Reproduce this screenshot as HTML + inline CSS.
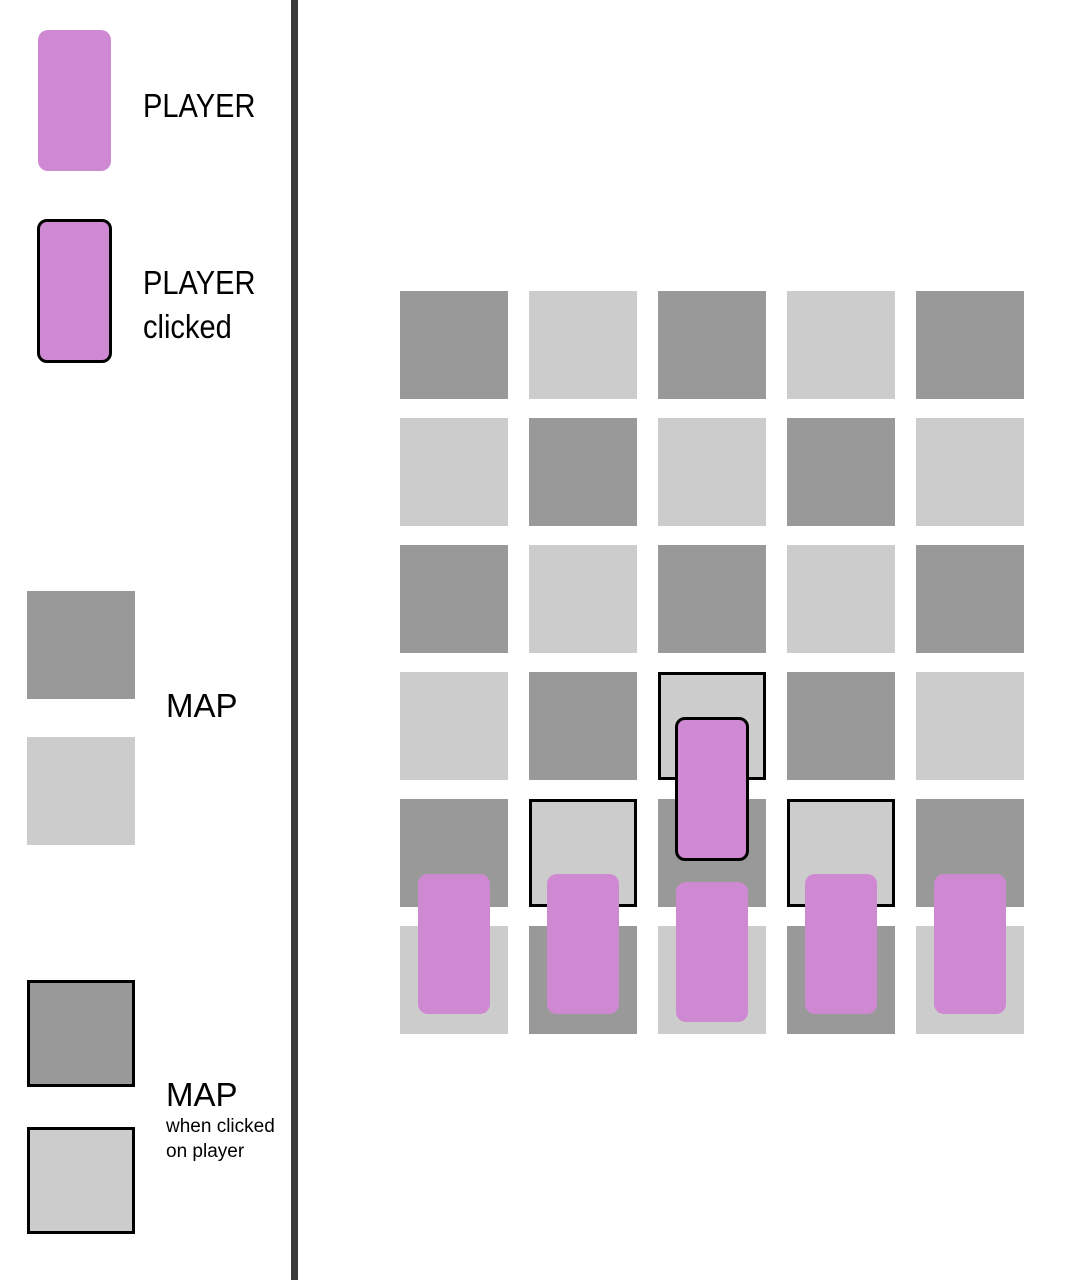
<!DOCTYPE html>
<html><head><style>
body{margin:0;width:1072px;height:1280px;background:#fff;position:relative;overflow:hidden;font-family:"Liberation Sans",sans-serif}
div{position:absolute;box-sizing:border-box}
.d{background:#999}.l{background:#ccc}
.p{background:#cf89d2;border-radius:10px}
.b{border:3.5px solid #000}
.t{color:#000;white-space:nowrap;line-height:1}
.s{transform:scaleX(0.88);transform-origin:0 0}
</style></head><body>
<div style="left:291px;top:0;width:7px;height:1280px;background:#3a3a3a"></div>
<div class="p" style="left:38px;top:30px;width:73px;height:141px"></div>
<div class="t s" style="left:143px;top:89px;font-size:33px">PLAYER</div>
<div class="p b" style="left:37px;top:219px;width:75px;height:144px"></div>
<div class="t s" style="left:143px;top:261px;font-size:33px;line-height:44px">PLAYER<br>clicked</div>
<div class="d" style="left:27px;top:591px;width:108px;height:108px"></div>
<div class="l" style="left:27px;top:737px;width:108px;height:108px"></div>
<div class="t" style="left:166px;top:689px;font-size:33px">MAP</div>
<div class="d b" style="left:27px;top:980px;width:108px;height:107px"></div>
<div class="l b" style="left:27px;top:1127px;width:108px;height:107px"></div>
<div class="t" style="left:166px;top:1078px;font-size:33px">MAP</div>
<div class="t" style="left:166px;top:1114px;font-size:19px;line-height:25px">when clicked<br>on player</div>
<div id="g"></div>
<script>
var xs=[400,529,658,787,916],ys=[291,418,545,672,799,926],h='';
for(var r=0;r<6;r++)for(var c=0;c<5;c++){var cl=((r+c)%2==0)?'d':'l';
var hl=(r==3&&c==2)||(r==4&&(c==1||c==3));
if(hl)cl='l b';
h+='<div class="'+cl+'" style="left:'+xs[c]+'px;top:'+ys[r]+'px;width:108px;height:108px"></div>';}
document.body.insertAdjacentHTML('beforeend',h);
</script>
<div class="p" style="left:418px;top:874px;width:72px;height:140px"></div>
<div class="p" style="left:547px;top:874px;width:72px;height:140px"></div>
<div class="p" style="left:676px;top:882px;width:72px;height:140px"></div>
<div class="p" style="left:805px;top:874px;width:72px;height:140px"></div>
<div class="p" style="left:934px;top:874px;width:72px;height:140px"></div>
<div class="p b" style="left:675px;top:717px;width:74px;height:144px"></div>
</body></html>
